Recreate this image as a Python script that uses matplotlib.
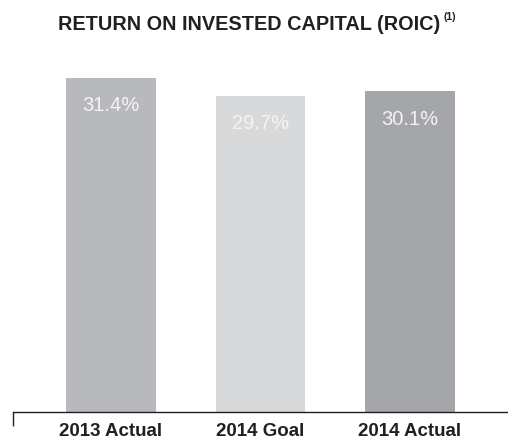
import matplotlib
matplotlib.use("Agg")
import matplotlib.pyplot as plt

categories = ["2013 Actual", "2014 Goal", "2014 Actual"]
roic = [31.4, 29.7, 30.1]
value_labels = ["31.4%", "29.7%", "30.1%"]
bar_colors = ["#b8b9bc", "#d8d9db", "#a5a6a9"]

plt.rcParams["font.family"] = ["Liberation Sans", "DejaVu Sans"]

W, H = 508, 440
fig = plt.figure(figsize=(W / 100, H / 100), dpi=100)
ax = fig.add_axes([13 / W, (H - 412) / H, 495 / W, 352 / H])

x = list(range(len(categories)))
ax.bar(x, roic, width=0.6, color=bar_colors)

for xi, v, lab in zip(x, roic, value_labels):
    ax.annotate(lab, (xi, v), xytext=(0, -28), textcoords="offset pixels",
                ha="center", va="center", fontsize=14.5, color="#f4f4f4")

ax.set_xlim(-0.656, 2.656)
ax.set_ylim(0, 352 / 10.65)

for s in ["top", "right", "left"]:
    ax.spines[s].set_visible(False)
ax.spines["bottom"].set_color("#231f20")
ax.spines["bottom"].set_linewidth(1.0)
ax.set_yticks([])
ax.set_xticks(x)
ax.set_xticklabels(categories, fontsize=13.5, fontweight="bold", color="#231f20")
ax.tick_params(axis="x", which="major", length=0, pad=8)
ax.set_xticks([-0.656], minor=True)
ax.tick_params(axis="x", which="minor", length=10, width=1.0, color="#231f20",
               direction="out")

fig.text(249 / W, 1 - 25 / H, "RETURN ON INVESTED CAPITAL (ROIC)",
         ha="center", va="center", fontsize=14.3, fontweight="bold", color="#231f20")
fig.text(444 / W, 1 - 17 / H, "(1)", ha="left", va="center",
         fontsize=7.5, fontweight="bold", color="#231f20")

fig.savefig("out.png", dpi=100)
